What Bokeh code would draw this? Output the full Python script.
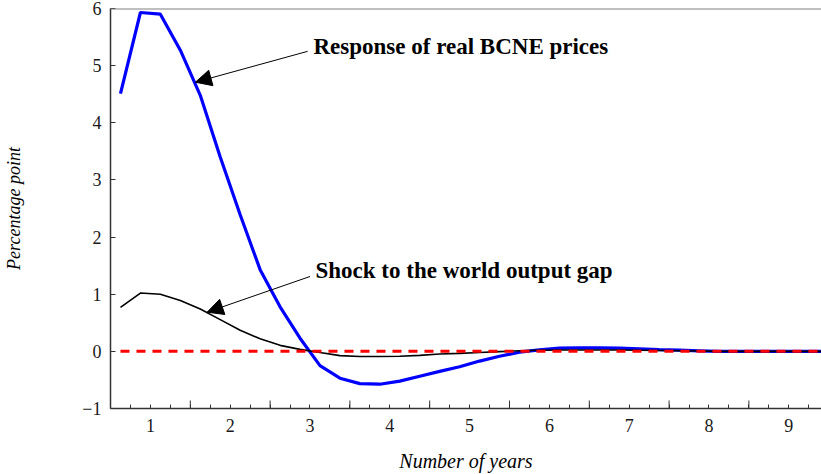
import math

from bokeh.plotting import figure
from bokeh.models import LinearAxis, FixedTicker, Range1d, Arrow, NormalHead, Label, Span
from bokeh.embed import file_html
from bokeh.resources import INLINE

# Quarterly horizon (in years) of the impulse responses
years = [0.625, 0.875, 1.125, 1.375, 1.625, 1.875, 2.125, 2.375, 2.625, 2.875,
         3.125, 3.375, 3.625, 3.875, 4.125, 4.375, 4.625, 4.875, 5.125, 5.375,
         5.625, 5.875, 6.125, 6.375, 6.625, 6.875, 7.125, 7.375, 7.625, 7.875,
         8.125, 8.375, 8.625, 8.875, 9.125, 9.375, 9.625]

# Response of real BCNE prices (percentage points)
bcne_prices = [4.51, 5.93, 5.90, 5.27, 4.48, 3.40, 2.39, 1.43, 0.78, 0.23,
               -0.25, -0.47, -0.565, -0.575, -0.52, -0.435, -0.35, -0.27, -0.17, -0.085,
               -0.015, 0.025, 0.055, 0.06, 0.06, 0.055, 0.045, 0.03, 0.02, 0.01,
               0.0, 0.0, 0.0, 0.0, 0.0, 0.0, 0.0]

# Shock to the world output gap (percentage points)
output_gap = [0.77, 1.02, 1.00, 0.89, 0.74, 0.555, 0.37, 0.22, 0.105, 0.035,
              -0.02, -0.075, -0.09, -0.09, -0.085, -0.07, -0.045, -0.035, -0.02, -0.005,
              0.01, 0.02, 0.025, 0.025, 0.025, 0.025, 0.02, 0.015, 0.01, 0.005,
              0.0, 0.0, 0.0, 0.0, 0.0, 0.0, 0.0]

# Zero reference line
baseline = [0.0] * len(years)

# Axis ticks
year_labels = [1, 2, 3, 4, 5, 6, 7, 8, 9]
year_bounds = [1.5, 2.5, 3.5, 4.5, 5.5, 6.5, 7.5, 8.5, 9.5]
quarter_ticks = [0.75, 1.25, 1.5, 1.75, 2.25, 2.5, 2.75, 3.25, 3.5, 3.75, 4.25, 4.5,
                 4.75, 5.25, 5.5, 5.75, 6.25, 6.5, 6.75, 7.25, 7.5, 7.75, 8.25, 8.5,
                 8.75, 9.25]
y_ticks = [-1, 0, 1, 2, 3, 4, 5, 6]

SERIF = "Liberation Serif"
TICK_COLOR = "#1a1a1a"
AXIS_COLOR = "#333333"

p = figure(width=821, height=474,
           x_range=Range1d(0.5, 9.41), y_range=Range1d(-1, 6),
           x_axis_type=None, y_axis_type=None,
           output_backend="svg", toolbar_location=None,
           min_border_left=110, min_border_right=0,
           min_border_top=8, min_border_bottom=66)
p.outline_line_color = None
p.background_fill_color = "white"
p.border_fill_color = "white"

# Left axis
yaxis = LinearAxis(ticker=FixedTicker(ticks=y_ticks, minor_ticks=[]),
                   axis_label="Percentage point")
yaxis.major_label_overrides = {-1: "\u22121"}
yaxis.axis_line_color = AXIS_COLOR
yaxis.axis_line_width = 1.5
yaxis.major_tick_in = 5
yaxis.major_tick_out = 0
yaxis.major_tick_line_color = AXIS_COLOR
yaxis.minor_tick_line_color = None
yaxis.major_label_standoff = 9
yaxis.major_label_text_font = SERIF
yaxis.major_label_text_font_size = "18px"
yaxis.major_label_text_color = TICK_COLOR
yaxis.axis_label_standoff = 55
yaxis.axis_label_text_font = SERIF
yaxis.axis_label_text_font_style = "italic"
yaxis.axis_label_text_font_size = "18px"
yaxis.axis_label_text_color = "black"
p.add_layout(yaxis, "left")

# Bottom axis: labelled years, short ticks every quarter
xaxis = LinearAxis(ticker=FixedTicker(ticks=year_labels, minor_ticks=quarter_ticks),
                   axis_label="Number of years")
xaxis.axis_line_color = AXIS_COLOR
xaxis.axis_line_width = 1.5
xaxis.major_tick_in = 4
xaxis.major_tick_out = 0
xaxis.minor_tick_in = 4
xaxis.minor_tick_out = 0
xaxis.major_tick_line_color = AXIS_COLOR
xaxis.minor_tick_line_color = AXIS_COLOR
xaxis.major_label_standoff = 10
xaxis.major_label_text_font = SERIF
xaxis.major_label_text_font_size = "18px"
xaxis.major_label_text_color = TICK_COLOR
xaxis.axis_label_standoff = 15
xaxis.axis_label_text_font = SERIF
xaxis.axis_label_text_font_style = "italic"
xaxis.axis_label_text_font_size = "20px"
xaxis.axis_label_text_color = "black"
p.add_layout(xaxis, "below")

# Taller ticks marking the boundaries between years (half of each dash is clipped by the frame)
p.scatter(year_bounds, [-1] * len(year_bounds), marker="dash", size=16,
          angle=math.pi / 2, line_color=AXIS_COLOR, line_width=1)

# Top frame line
p.add_layout(Span(location=6, dimension="width", line_color="#808080", line_width=2))

# Series
p.line(years, bcne_prices, line_color="#0000ff", line_width=3.2)
p.line(years, output_gap, line_color="black", line_width=1.6)
p.line(years, baseline, line_color="#ff0000", line_width=3, line_dash="9 7")

# Annotations
head_kw = dict(size=16, fill_color="black", line_color="black", line_width=1)
p.add_layout(Arrow(end=NormalHead(**head_kw), x_start=2.97, y_start=5.25,
                   x_end=1.564, y_end=4.71, line_color="black", line_width=1))
p.add_layout(Arrow(end=NormalHead(**head_kw), x_start=3.0, y_start=1.31,
                   x_end=1.711, y_end=0.686, line_color="black", line_width=1))

label_kw = dict(text_font=SERIF, text_font_style="bold", text_font_size="23px",
                text_color="black", text_baseline="middle", text_align="left")
p.add_layout(Label(x=3.044, y=5.336, text="Response of real BCNE prices", **label_kw))
p.add_layout(Label(x=3.069, y=1.416, text="Shock to the world output gap", **label_kw))

open("out.html", "w").write(file_html(p, INLINE))
